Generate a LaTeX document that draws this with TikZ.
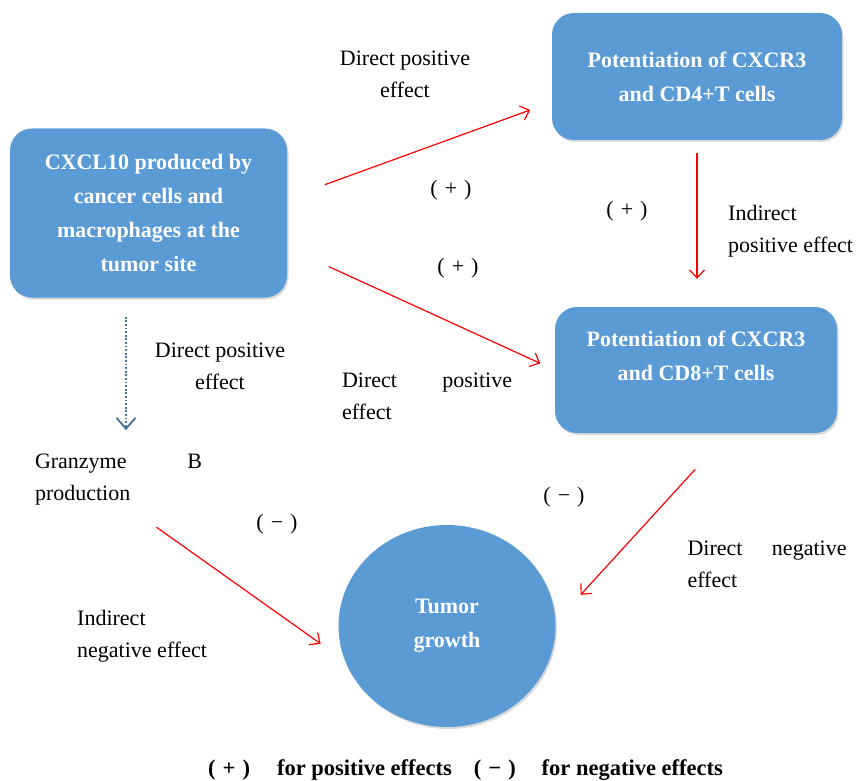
\documentclass[tikz,border=0pt]{standalone}
\usepackage{fontspec}
\setmainfont{Liberation Serif}
\usepackage{tikz}
\usetikzlibrary{positioning,shapes.geometric,arrows.meta,shadows}
\definecolor{cellblue}{HTML}{5B9BD5}
\definecolor{dotblue}{HTML}{41719C}
\newcommand{\effsign}[2]{(\hspace{#2}#1\hspace{#2})}
\tikzstyle{box}=[%
      rectangle, rounded corners=22pt, draw=none, fill=cellblue,
      drop shadow={shadow xshift=1.5pt, shadow yshift=-2pt, opacity=0.3},
      text=white, font=\fontsize{22}{34}\selectfont\bfseries, align=center
]
\tikzstyle{boxtext}=[%
      text=white, font=\fontsize{22}{34}\selectfont\bfseries, align=center
]
\tikzstyle{tumor}=[%
      ellipse, draw=none, fill=cellblue, minimum width=217pt, minimum height=202pt,
      drop shadow={shadow xshift=1.5pt, shadow yshift=-2pt, opacity=0.3},
      text=white, font=\fontsize{22}{34}\selectfont\bfseries, align=center
]
\tikzstyle{note}=[inner sep=0pt, font=\fontsize{22}{32}\selectfont]
\tikzstyle{sign}=[inner sep=0pt, font=\fontsize{22}{22}\selectfont]
\tikzstyle{effect}=[draw=red, line width=1.2pt, -{Straight Barb[length=8pt,width=15pt]}]
\tikzstyle{granarrow}=[draw=dotblue, line width=1.8pt, dash pattern=on 1.8pt off 1.8pt,
      -{Straight Barb[length=11pt,width=19pt]}]

\begin{document}
\begin{tikzpicture}[x=1pt, y=-1pt]
    \useasboundingbox (0,0) rectangle (862,781);

    % cells and tumour
    \node[box, minimum width=277pt, minimum height=169pt] (cxcl) at (148.5,213)
        {CXCL10 produced by\\cancer cells and\\macrophages at the\\tumor site};
    \node[box, minimum width=290pt, minimum height=127pt] (cd4) at (697,76.5)
        {Potentiation of CXCR3\\and CD4+T cells};
    \node[box, minimum width=282pt, minimum height=126pt,
          label={[boxtext, yshift=14pt]center:{Potentiation of CXCR3\\and CD8+T cells}}] (cd8) at (696,370) {};
    \node[tumor] (tumor) at (447,626) {Tumor\\growth};
    \node[note, text width=167pt, align=justify] (gz) at (118.5,480) {Granzyme B\linebreak production};

    % effect texts
    \node[note, align=center] (dpa) at (405,74) {Direct positive\\effect};
    \node[note, align=center] (dpb) at (220,366) {Direct positive\\effect};
    \node[note, text width=170pt, align=justify] (dpc) at (427,396) {Direct positive\linebreak effect};
    \node[note, align=left, anchor=west] (ipe) at (728,231) {Indirect\\positive effect};
    \node[note, text width=159pt, align=justify] (dne) at (767,564) {Direct negative\linebreak effect};
    \node[note, align=left, anchor=west] (ine) at (77,636) {Indirect\\negative effect};

    \node[sign] (pa) at (451,190) {\effsign{+}{7pt}};
    \node[sign] (pb) at (458,268) {\effsign{+}{7pt}};
    \node[sign] (pc) at (627,211) {\effsign{+}{7pt}};
    \node[sign] (ma) at (277,524) {\effsign{−}{7pt}};
    \node[sign] (mb) at (564,497) {\effsign{−}{7pt}};

    % arrows
    \draw[effect, shorten <=40pt, shorten >=23pt] (cxcl.6) -- (cd4.190);
    \draw[effect, shorten <=46pt, shorten >=16pt] (cxcl.346) -- (cd8.west);
    \draw[effect, shorten <=13pt, shorten >=28pt] (cd4.south) -- (cd4.south |- cd8.north);
    \draw[effect, shorten <=49pt, shorten >=37pt] (cd8.297) -- (tumor.2);
    \draw[effect, shorten <=37pt, shorten >=30pt] (gz.287) -- (tumor.199);
    \draw[granarrow, shorten <=19pt, shorten >=24pt] ([xshift=7.5pt]gz.north |- cxcl.south) -- ([xshift=7.5pt]gz.north);

    % legend
    \node[inner sep=0pt, anchor=base west, font=\fontsize{22.5}{22.5}\selectfont\bfseries] (legend) at (208,775)
        {\effsign{+}{7pt}\hspace{27pt}for positive effects\hspace{22pt}\effsign{−}{7pt}\hspace{26pt}for negative effects};
\end{tikzpicture}
\end{document}
